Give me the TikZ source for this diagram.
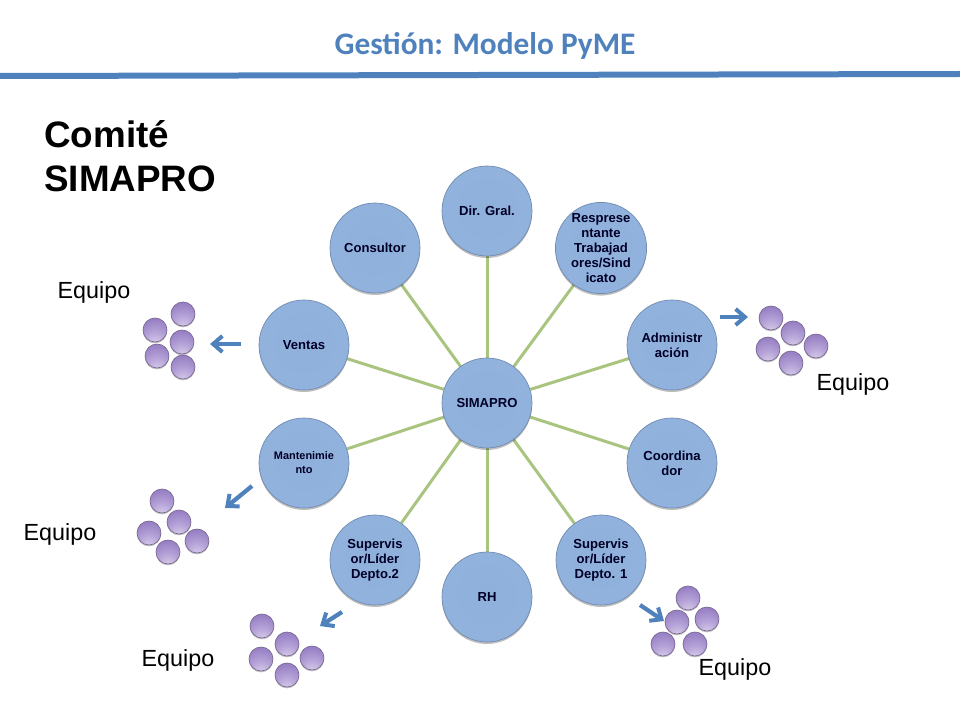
\documentclass[tikz,border=0pt]{standalone}
\usepackage{fontspec}
\setmainfont{Liberation Sans}
\newfontfamily\titlefont{Carlito}
\usetikzlibrary{arrows.meta,shadows,backgrounds}
\definecolor{barblue}{HTML}{4F81BD}
\definecolor{linkgreen}{HTML}{A9C47F}
\definecolor{rimblue}{HTML}{6F89AD}
\definecolor{ballrim}{HTML}{75658F}
\definecolor{sphA}{HTML}{8FB0DB}
\definecolor{sphB}{HTML}{92B3DE}
\definecolor{sphC}{HTML}{A0BEE5}
\definecolor{sphD}{HTML}{86A3CA}
\definecolor{sphE}{HTML}{5F789B}
\definecolor{sphF}{HTML}{4D6280}
\definecolor{plA}{HTML}{E2D8EE}
\definecolor{plB}{HTML}{B5A3D8}
\definecolor{plC}{HTML}{8C72BC}
\definecolor{plD}{HTML}{6F56A0}
\pgfdeclareradialshading{bluesphere}{\pgfpoint{0bp}{2bp}}{%
  color(0bp)=(sphA);
  color(34bp)=(sphB);
  color(44bp)=(sphC);
  color(48bp)=(sphD);
  color(52bp)=(sphE);
  color(60bp)=(sphF)}
\pgfdeclareradialshading{purplesphere}{\pgfpoint{0bp}{-34bp}}{%
  color(0bp)=(plA);
  color(22bp)=(plB);
  color(48bp)=(plC);
  color(85bp)=(plD)}
\tikzset{
  x=0.75pt,y=-0.75pt,
  bigball/.style={circle,minimum size=67.5pt,inner sep=0pt,shading=bluesphere,draw=rimblue,line width=0.5pt,
    drop shadow={shadow xshift=0pt,shadow yshift=-1.5pt,fill=black,opacity=0.25},
    align=center,font=\fontsize{9.8pt}{11.25pt}\selectfont\bfseries,text=black!85!blue},
  smalltext/.style={font=\fontsize{8.2pt}{10.5pt}\selectfont\bfseries},
  link/.style={draw=linkgreen,line width=2.25pt},
  ball/.style={circle,minimum size=18pt,inner sep=0pt,draw=ballrim,line width=0.5pt,
    shading=purplesphere,
    drop shadow={shadow xshift=0pt,shadow yshift=-1pt,fill=black,opacity=0.25}},
  teamarrow/.style={draw=barblue,line width=3.2pt,-{Straight Barb[length=7pt,width=12pt,line width=3pt]}},
  teamlabel/.style={font=\fontsize{17.5pt}{20pt}\selectfont,text=black,inner sep=0pt},
}
\begin{document}
\begin{tikzpicture}
\useasboundingbox (0,0) rectangle (960,720);
\fill[barblue] (0,73) -- (960,71) -- (960,77) -- (0,79) -- cycle;
\node[inner sep=0pt,text=barblue,font=\titlefont\fontsize{23.5pt}{26pt}\selectfont\bfseries] (title) at (485,46) {Gestión: Modelo PyME};
\node[inner sep=0pt,anchor=north west,align=left,font=\fontsize{27.6pt}{33pt}\selectfont\bfseries] (comite) at (44,120) {Comité\\SIMAPRO};

\node[bigball] (c) at (487,403) {SIMAPRO};
\node[bigball] (n1) at (487,211) {Dir. Gral.};
\node[bigball] (n2) at (601,248) {Resprese\\ntante\\Trabajad\\ores/Sind\\icato};
\node[bigball] (n3) at (672,345) {Administr\\ación};
\node[bigball] (n4) at (672,463) {Coordina\\dor};
\node[bigball] (n5) at (601,560) {Supervis\\or/Líder\\Depto. 1};
\node[bigball] (n6) at (487,597) {RH};
\node[bigball] (n7) at (375,560) {Supervis\\or/Líder\\Depto.2};
\node[bigball,smalltext] (n8) at (304,463) {Mantenimie\\nto};
\node[bigball] (n9) at (304,345) {Ventas};
\node[bigball] (n10) at (375,248) {Consultor};
\begin{scope}[on background layer]
\foreach \k in {1,...,10} \draw[link] (c) -- (n\k);
\end{scope}

% teams
\foreach \nm/\xx/\yy in {a1/183/314,a2/155/330,a3/182/342,a4/157/356,a5/183/367,
  b1/771/318,b2/793/333,b3/816/346,b4/768/349,b5/791/363,
  d1/162/501,d2/179/522,d3/149/533,d4/197/541,d5/168/552,
  e1/262/626,e2/287/644,e3/261/659,e4/312/658,e5/287/675,
  f1/688/598,f2/677/622,f3/707/619,f4/663/644,f5/695/644}
  \node[ball] (\nm) at (\xx,\yy) {};

\coordinate (a0) at (241,344); \coordinate (a9) at (210,344);
\coordinate (b0) at (720,317); \coordinate (b9) at (748,317);
\coordinate (d0) at (252,486); \coordinate (d9) at (225,508);
\coordinate (e0) at (342,612); \coordinate (e9) at (320,626);
\coordinate (f0) at (640,605); \coordinate (f9) at (664,621);
\foreach \k in {a,b,d,e,f} \draw[teamarrow] (\k0) -- (\k9);

\node[teamlabel] (l1) at (94,292) {Equipo};
\node[teamlabel] (l2) at (853,384) {Equipo};
\node[teamlabel] (l3) at (60,534) {Equipo};
\node[teamlabel] (l4) at (178,660) {Equipo};
\node[teamlabel] (l5) at (735,669) {Equipo};
\end{tikzpicture}
\end{document}
